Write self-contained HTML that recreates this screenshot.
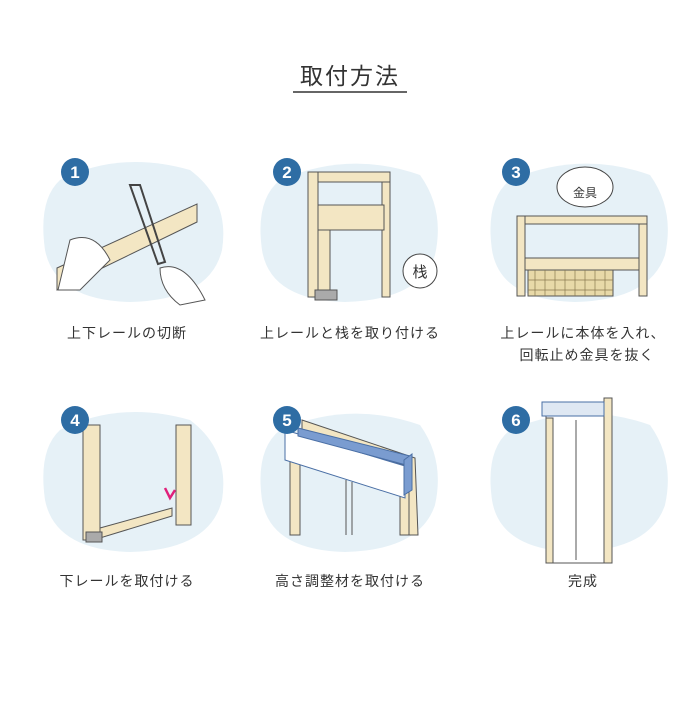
<!DOCTYPE html>
<html><head><meta charset="utf-8"><style>
body{margin:0;background:#fff;width:700px;height:700px;overflow:hidden}
text{font-family:"Liberation Sans","Noto Sans CJK JP",sans-serif;fill:#333}
</style></head><body>
<svg width="700" height="700" viewBox="0 0 700 700" xmlns="http://www.w3.org/2000/svg">
<text x="350" y="84" font-size="23" text-anchor="middle" letter-spacing="2">取付方法</text>
<line x1="293" y1="92" x2="407" y2="92" stroke="#333" stroke-width="1.5"/>
<g fill="#e6f1f7">
<path d="M60 180 Q120 150 190 170 Q230 200 222 250 Q210 300 130 302 Q55 300 45 250 Q38 200 60 180Z"/>
<path d="M280 180 Q350 150 420 175 Q445 210 435 255 Q420 300 345 302 Q270 300 262 250 Q255 200 280 180Z"/>
<path d="M510 180 Q580 150 650 175 Q675 210 665 255 Q650 300 575 302 Q500 300 492 250 Q485 200 510 180Z"/>
<path d="M60 430 Q120 400 190 420 Q230 450 222 500 Q210 550 130 552 Q55 550 45 500 Q38 450 60 430Z"/>
<path d="M280 430 Q350 400 420 425 Q445 460 435 505 Q420 550 345 552 Q270 550 262 500 Q255 450 280 430Z"/>
<path d="M510 430 Q580 400 650 425 Q675 460 665 505 Q650 550 575 552 Q500 550 492 500 Q485 450 510 430Z"/>
</g>
<g fill="#f3e6c3" stroke="#555" stroke-width="1">
<polygon points="57,268 197,204 197,222 57,290"/>
<path d="M130 185 L140 185 L165 262 L158 264Z" fill="none" stroke="#444" stroke-width="2"/>
<path d="M70 240 Q95 230 110 260 L80 290 L58 290Z" fill="#fff"/>
<path d="M160 268 Q185 260 205 300 L180 305 Q160 290 160 268Z" fill="#fff"/>
<rect x="308" y="172" width="82" height="10"/>
<rect x="308" y="172" width="10" height="125"/>
<rect x="382" y="182" width="8" height="115"/>
<rect x="318" y="205" width="66" height="25"/>
<rect x="318" y="230" width="12" height="65"/>
<rect x="315" y="290" width="22" height="10" fill="#aaa"/>
<rect x="517" y="216" width="130" height="8"/>
<rect x="517" y="216" width="8" height="80"/>
<rect x="639" y="224" width="8" height="72"/>
<rect x="525" y="258" width="114" height="12"/>
<rect x="528" y="270" width="85" height="26" fill="#e8d9a8"/>
<path d="M535 270V296M545 270V296M555 270V296M565 270V296M575 270V296M585 270V296M595 270V296M605 270V296M528 280H613M528 290H613" stroke="#8a7a50" stroke-width="0.7"/>
<rect x="83" y="425" width="17" height="115"/>
<rect x="176" y="425" width="15" height="100"/>
<polygon points="100,528 172,508 172,516 100,538"/>
<rect x="86" y="532" width="16" height="10" fill="#aaa"/>
<polygon points="302,420 415,458 418,535 408,535 406,466 302,430"/>
<rect x="290" y="460" width="10" height="75"/>
<rect x="400" y="490" width="9" height="45"/>
<polygon points="285,430 405,466 405,498 285,460" fill="#fff" stroke="#4a6fa5"/>
<polygon points="298,428 410,456 410,466 298,436" fill="#7a9cd0" stroke="#4a6fa5"/>
<polygon points="404,460 412,454 412,490 404,495" fill="#7a9cd0" stroke="#4a6fa5"/>
<line x1="346" y1="480" x2="346" y2="535"/><line x1="352" y1="482" x2="352" y2="535"/>
<rect x="546" y="410" width="66" height="153" fill="#fff"/>
<rect x="546" y="418" width="7" height="145"/>
<rect x="604" y="398" width="8" height="165"/>
<rect x="542" y="402" width="62" height="14" fill="#dfe8f3" stroke="#4a6fa5"/>
<line x1="576" y1="420" x2="576" y2="560"/>
</g>
<circle cx="420" cy="271" r="17" fill="#fff" stroke="#444"/>
<text x="420" y="277" font-size="15" text-anchor="middle">栈</text>
<ellipse cx="585" cy="187" rx="28" ry="20" fill="#fff" stroke="#444"/>
<text x="585" y="197" font-size="12" text-anchor="middle">金具</text>
<path d="M165 488 L170 498 L175 490" stroke="#e0207a" stroke-width="2.5" fill="none"/>
<g fill="#2e6da4">
<circle cx="75" cy="172" r="14"/><circle cx="287" cy="172" r="14"/><circle cx="516" cy="172" r="14"/>
<circle cx="75" cy="420" r="14"/><circle cx="287" cy="420" r="14"/><circle cx="516" cy="420" r="14"/>
</g>
<g font-size="17" text-anchor="middle" font-weight="bold">
<text x="75" y="178" style="fill:#fff">1</text><text x="287" y="178" style="fill:#fff">2</text><text x="516" y="178" style="fill:#fff">3</text>
<text x="75" y="426" style="fill:#fff">4</text><text x="287" y="426" style="fill:#fff">5</text><text x="516" y="426" style="fill:#fff">6</text>
</g>
<g font-size="14" text-anchor="middle" letter-spacing="1">
<text x="127" y="338">上下レールの切断</text>
<text x="350" y="338">上レールと栈を取り付ける</text>
<text x="583" y="338">上レールに本体を入れ、</text>
<text x="587" y="360">回転止め金具を抜く</text>
<text x="127" y="586">下レールを取付ける</text>
<text x="350" y="586">高さ調整材を取付ける</text>
<text x="583" y="586">完成</text>
</g>
</svg>
</body></html>
